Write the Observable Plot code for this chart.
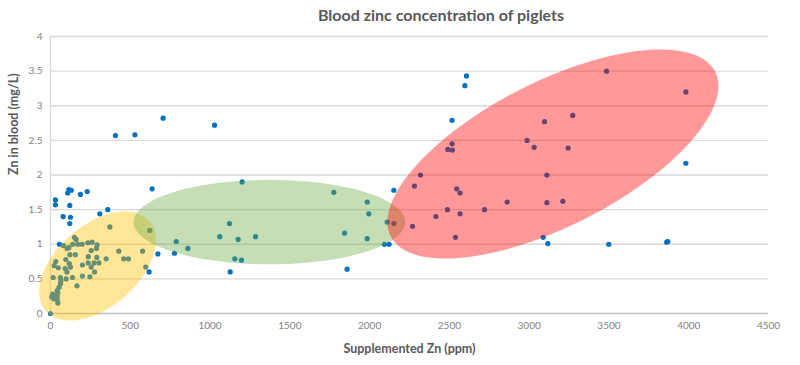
<!DOCTYPE html>
<html><head><meta charset="utf-8">
<script src="https://cdn.jsdelivr.net/npm/d3@7"></script>
<script src="https://cdn.jsdelivr.net/npm/@observablehq/plot@0.6"></script>
<style>
body{margin:0;background:#fff;font-family:Lato,"Noto Sans",sans-serif}
#title{height:30px;line-height:30px;font-weight:bold;font-size:16px;color:#595959;text-align:center;padding-left:82px;box-sizing:border-box;width:800px}
</style>
</head><body>
<div id="title">Blood zinc concentration of piglets</div>
<div id="chart"></div>
<script>
// Supplemented Zn (ppm) and Zn in blood (mg/L)
const supplementedZn = [
  56,81,115,140,150,161,171,198,234,261,292,288,104,
  255,122,156,237,290,349,428,459,489,577,
  96,33,118,236,273,303,200,23,49,92,125,255,103,276,
  17,62,138,200,247,98,65,63,166,54,42,46,14,25,8,42,21,42,46,
  0,115,130,108,188,230,31,31,121,637,79,125,121,309,359,372,622,673,597,618,
  407,529,706,1028,1201,1776,1122,1061,1176,1285,1843,788,861,777,1155,1197,1126,1859,
  1985,1995,2152,2319,2281,1985,2110,2152,2269,2093,2122,
  2607,2597,3485,3982,2517,3273,3096,2987,3031,3244,2517,2490,2519,3982,3111,
  2546,2567,2488,2567,2415,2720,2862,3111,3211,2538,3088,3117,3499,3862,3869
];
const bloodZn = [
  1.00,0.98,0.95,1.00,1.10,1.07,1.00,1.00,1.02,1.03,0.99,0.94,0.94,
  0.91,0.85,0.85,0.82,0.81,0.79,0.90,0.79,0.79,0.90,
  0.78,0.75,0.72,0.73,0.73,0.73,0.70,0.69,0.66,0.65,0.67,0.67,0.60,0.60,
  0.52,0.52,0.52,0.54,0.53,0.50,0.47,0.43,0.40,0.38,0.33,0.30,0.28,0.26,0.24,0.25,0.21,0.20,0.15,
  0.00,1.79,1.78,1.74,1.72,1.76,1.64,1.57,1.56,1.80,1.40,1.39,1.30,1.44,1.50,1.25,1.20,0.86,0.67,0.60,
  2.57,2.58,2.82,2.72,1.90,1.75,1.30,1.11,1.07,1.11,1.16,1.04,0.94,0.87,0.79,0.77,0.60,0.64,
  1.61,1.44,1.78,2.00,1.84,1.08,1.32,1.30,1.26,1.00,1.00,
  3.43,3.29,3.50,3.20,2.79,2.86,2.77,2.50,2.40,2.39,2.45,2.37,2.36,2.17,2.00,
  1.80,1.74,1.50,1.44,1.40,1.50,1.61,1.60,1.62,1.10,1.10,1.01,1.00,1.03,1.04
];
const xTicks = [0,500,1000,1500,2000,2500,3000,3500,4000,4500];
const yTicks = [0,0.5,1,1.5,2,2.5,3,3.5,4];

// Highlight ellipses (data units): centre and two conjugate semi-diameters
const groupNames = ["low", "mid", "high"];
const groupCenterX = [295, 1372, 3149];
const groupCenterY = [0.686, 1.32, 2.303];
const groupAxisA = [[326, 0.647], [852, 0], [1017, 1.189]];
const groupAxisB = [[-167, 0.448], [0, 0.61], [-205, 0.931]];

const groupFill = {low: "#FFC000", mid: "#70AD47", high: "#FF0000"};

const points = supplementedZn.map((x, i) => ({x, y: bloodZn[i]}));
const ellipsePts = [];
groupNames.forEach((g, k) => {
  for (let j = 0; j <= 96; j++) {
    const t = 2 * Math.PI * j / 96;
    ellipsePts.push({
      g,
      x: groupCenterX[k] + Math.cos(t) * groupAxisA[k][0] + Math.sin(t) * groupAxisB[k][0],
      y: groupCenterY[k] + Math.cos(t) * groupAxisA[k][1] + Math.sin(t) * groupAxisB[k][1]
    });
  }
});

const chart = Plot.plot({
  width: 800, height: 335,
  marginTop: 6, marginLeft: 50, marginRight: 32, marginBottom: 52,
  style: {fontFamily: "Lato, 'Noto Sans', sans-serif", fontSize: "10px", color: "#595959", background: "#fff"},
  x: {domain: [0, 4500], label: null},
  y: {domain: [0, 4], label: null},
  marks: [
    Plot.gridY(yTicks.filter(d => d > 0), {stroke: "#d9d9d9", strokeOpacity: 1, strokeWidth: 1.3}),
    Plot.ruleX([0], {stroke: "#d9d9d9", strokeWidth: 1.3}),
    Plot.ruleY([0], {stroke: "#bfbfbf", strokeWidth: 1.3}),
    Plot.axisX({ticks: xTicks, tickSize: 0, tickPadding: 8, fill: "#7f7f7f", label: null, tickFormat: d => String(d)}),
    Plot.axisY({ticks: yTicks, tickSize: 0, tickPadding: 8, fill: "#7f7f7f", label: null, tickFormat: d => String(d)}),
    Plot.dot(points, {x: "x", y: "y", r: 2.6, fill: "#0070C0", stroke: "none"}),
    ...groupNames.map(g => Plot.line(ellipsePts.filter(d => d.g === g), {x: "x", y: "y", fill: groupFill[g], fillOpacity: 0.4, stroke: "none", curve: "linear-closed"})),
    Plot.text(["Supplemented Zn (ppm)"], {frameAnchor: "bottom", dy: 39, fontWeight: "bold", fontSize: 12.5, fill: "#595959"}),
    Plot.text(["Zn in blood (mg/L)"], {frameAnchor: "left", dx: -37, rotate: -90, fontWeight: "bold", fontSize: 12.5, fill: "#595959"})
  ]
});
document.getElementById("chart").appendChild(chart);
</script>
</body></html>
